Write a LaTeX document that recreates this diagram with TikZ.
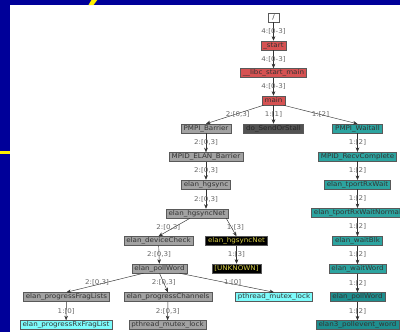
\documentclass[tikz,border=0pt]{standalone}
\usepackage{fontspec}
\usepackage{tikz}
\usetikzlibrary{arrows.meta}
\newfontfamily\graphfont[FakeStretch=1.1]{DejaVu Sans}
\definecolor{slideblue}{RGB}{0,0,153}
\definecolor{slideyellow}{RGB}{255,240,0}
\definecolor{fnred}{RGB}{214,82,82}
\definecolor{fngrey}{RGB}{162,162,162}
\definecolor{fndark}{RGB}{82,82,82}
\definecolor{fnteal}{RGB}{44,164,160}
\definecolor{fntealdk}{RGB}{30,142,142}
\definecolor{fncyan}{RGB}{125,252,252}
\definecolor{fnolive}{RGB}{214,204,70}
\tikzset{
  fn/.style={draw=black!65, line width=0.5pt, inner xsep=2.5pt, inner ysep=0pt,
    minimum height=9pt, text=black!80, font=\graphfont\fontsize{6.5}{7}\selectfont},
  call/.style={draw=black!80, line width=0.45pt, -{Stealth[length=4.5pt,width=3.6pt]}},
  clabel/.style={inner sep=0pt, text=black!60, font=\graphfont\fontsize{6.5}{7}\selectfont}
}
\begin{document}
\begin{tikzpicture}[x=1pt,y=-1pt]
  \useasboundingbox (0,0) rectangle (400,332);
  % slide background
  \fill[slideblue] (0,0) rectangle (400,332);
  \fill[white] (10,5) rectangle (400,332);
  \fill[slideyellow] (92,-1) -- (98,-1) -- (93.5,5) -- (88.5,5) -- cycle;
  \fill[slideyellow] (0,151) rectangle (10,153.5);

  % main chain
  \node[fn, fill=white, minimum width=11pt] (root) at (273.5,17.5) {/};
  \node[fn, fill=fnred] (start) at (273.5,45.5) {\_start};
  \node[fn, fill=fnred] (libc) at (273.5,73) {\_\_libc\_start\_main};
  \node[fn, fill=fnred] (main) at (273.5,100.5) {main};

  % barrier branch
  \node[fn, fill=fngrey] (pbar) at (206,128.5) {PMPI\_Barrier};
  \node[fn, fill=fndark, text=black!85] (send) at (273.5,128.5) {do\_SendOrStall};
  \node[fn, fill=fngrey] (ebar) at (206,157) {MPID\_ELAN\_Barrier};
  \node[fn, fill=fngrey] (hgs) at (206,184.5) {elan\_hgsync};
  \node[fn, fill=fngrey] (hsn) at (197,213.5) {elan\_hgsyncNet};
  \node[fn, fill=fngrey] (dchk) at (158.5,241) {elan\_deviceCheck};
  \node[fn, fill=black, text=fnolive] (hsnb) at (236.5,241) {elan\_hgsyncNet};
  \node[fn, fill=fngrey] (pollw) at (159.5,268.5) {elan\_pollWord};
  \node[fn, fill=black, text=fnolive] (unk) at (236.5,268.5) {[UNKNOWN]};
  \node[fn, fill=fngrey] (pfl) at (66.5,297) {elan\_progressFragLists};
  \node[fn, fill=fngrey] (pch) at (168,297) {elan\_progressChannels};
  \node[fn, fill=fncyan] (mlock) at (274,297) {pthread\_mutex\_lock};
  \node[fn, fill=fncyan] (prx) at (66,325) {elan\_progressRxFragList};
  \node[fn, fill=fngrey] (mlockg) at (167.5,325) {pthread\_mutex\_lock};

  % waitall branch
  \foreach \name/\txt/\col [count=\j] in {
      wall/PMPI\_Waitall/fnteal, rcv/MPID\_RecvComplete/fnteal,
      trx/elan\_tportRxWait/fnteal, trxn/elan\_tportRxWaitNormal/fnteal,
      wblk/elan\_waitBlk/fnteal, wword/elan\_waitWord/fnteal,
      pollt/elan\_pollWord/fntealdk, pev/elan3\_pollevent\_word/fntealdk}
  {
    \def\y{100.5+28.08*\j}
    \node[fn, fill=\col] (\name) at (357.5,{\y}) {\txt};
  }

  % calls
  \foreach \a/\b/\l in {root/start/{4:[0-3]}, start/libc/{4:[0-3]}, libc/main/{4:[0-3]},
      main/send/{1:[1]}, pbar/ebar/{2:[0,3]}, ebar/hgs/{2:[0,3]},
      dchk/pollw/{2:[0,3]}, hsnb/unk/{1:[3]}, pch/mlockg/{2:[0,3]}, pfl/prx/{1:[0]},
      wall/rcv/{1:[2]}, rcv/trx/{1:[2]}, trx/trxn/{1:[2]}, trxn/wblk/{1:[2]},
      wblk/wword/{1:[2]}, wword/pollt/{1:[2]}, pollt/pev/{1:[2]}}
    \draw[call] (\a) -- node[clabel]{\l} (\b);

  \draw[call] ([xshift=-10]main.south) -- node[clabel, xshift=3]{2:[0,3]} (pbar.north);
  \draw[call] ([xshift=10]main.south) -- node[clabel]{1:[2]} (wall.north);
  \draw[call] (hgs.south) -- node[clabel]{2:[0,3]} (hgs.south |- hsn.north);
  \draw[call] ([xshift=-7]hsn.south) -- node[clabel, xshift=-6]{2:[0,3]} (dchk.north);
  \draw[call] ([xshift=-2]hsn.south east) -- node[clabel, xshift=4]{1:[3]} (hsnb.north);
  \draw[call] ([xshift=-16]pollw.south) -- node[clabel, xshift=-8]{2:[0,3]} (pfl.north);
  \draw[call] (pollw.south) -- node[clabel]{2:[0,3]} (pch.north);
  \draw[call] ([xshift=20]pollw.south) -- node[clabel, xshift=6]{1:[0]} (mlock.north);
\end{tikzpicture}
\end{document}
